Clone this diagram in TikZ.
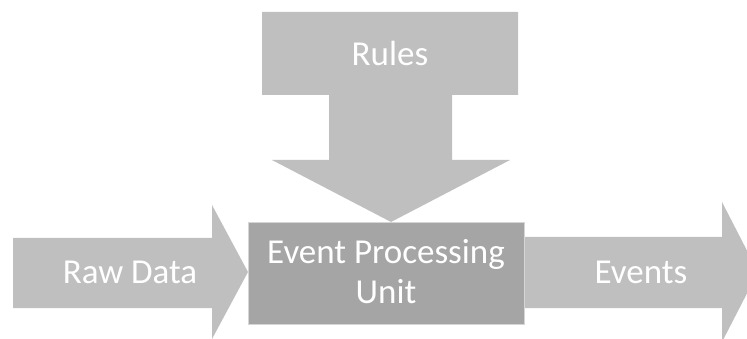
\documentclass[tikz,border=0pt]{standalone}
\usepackage{fontspec}
\setmainfont{Carlito}
\usetikzlibrary{positioning}

\definecolor{arrowgray}{HTML}{BFBFBF}
\definecolor{unitgray}{HTML}{A5A5A5}
\definecolor{edgegray}{HTML}{D6D6D6}

\begin{document}
\begin{tikzpicture}[
		x=1pt, y=-1pt,
		flow/.style={fill=arrowgray},
		caption/.style={text=white, align=center, font=\fontsize{35}{40}\selectfont},
		block/.style={draw=edgegray, line width=0.8pt, fill=unitgray},
	]
		\useasboundingbox (0,0) rectangle (747,339);
		\clip (0,0) rectangle (747,339);

		% incoming data
		\fill[flow] (13,238) -- (212,238) -- (212,205) -- (248,272) -- (212,339)
			-- (212,308) -- (13,308) -- cycle;
		% outgoing events
		\fill[flow] (523,237) -- (722,237) -- (722,202) -- (758,272) -- (722,342)
			-- (722,308) -- (523,308) -- cycle;
		% rules pushed down into the unit
		\fill[flow] (262,12) -- (518,12) -- (518,95) -- (452,95) -- (452,160)
			-- (510,160) -- (391,222) -- (272,160) -- (329,160) -- (329,95)
			-- (262,95) -- cycle;

		\draw[block] (248,222) rectangle (524,324);

		\node [caption] (unit) at (386,272) {Event Processing\\Unit};
		\node [caption] (rules) at (390,53) {Rules};
		\node [caption] (raw) at (130,272) {Raw Data};
		\node [caption] (events) at (641,272) {Events};
	\end{tikzpicture}
\end{document}
